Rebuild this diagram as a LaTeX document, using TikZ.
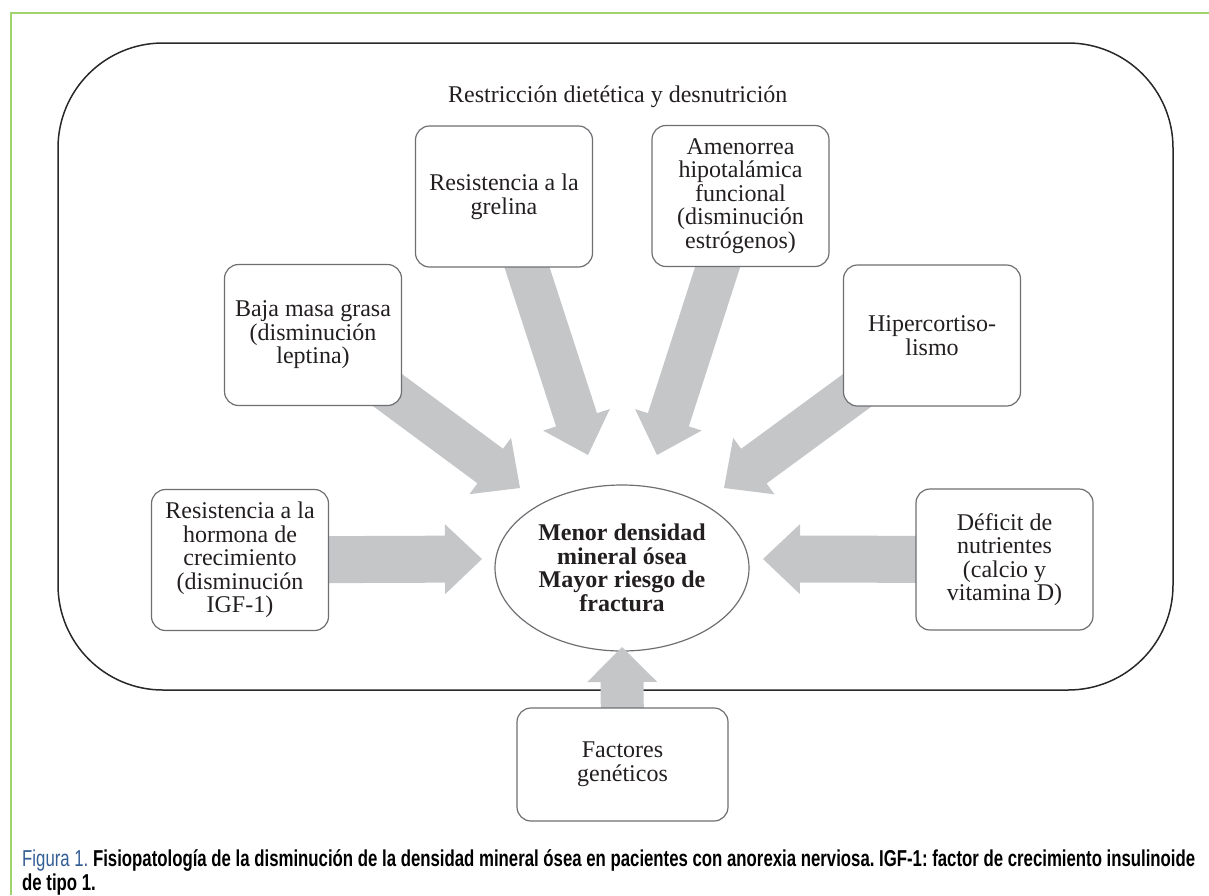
\documentclass[tikz,border=0pt]{standalone}
\usepackage{fontspec}
\setmainfont{Liberation Serif}
\newfontfamily\capfont{Liberation Sans}
\usetikzlibrary{calc,shapes.geometric}

\definecolor{framegreen}{RGB}{160,210,110}
\definecolor{arrowgray}{RGB}{197,198,200}
\definecolor{boxline}{RGB}{110,111,114}
\definecolor{outerline}{RGB}{40,40,40}
\definecolor{capblue}{RGB}{52,94,150}
\definecolor{inktext}{RGB}{35,31,32}

\tikzset{
  factor/.style={draw=boxline, line width=1.2pt, fill=white, rounded corners=14pt,
    minimum width=177pt, minimum height=141pt, inner sep=0pt, align=center,
    text=inktext, font=\fontsize{24}{23.6}\selectfont},
  outcome/.style={ellipse, draw=boxline, line width=1.2pt, fill=white,
    minimum width=254pt, minimum height=166pt, inner sep=0pt, align=center,
    text=inktext, font=\fontsize{24}{23.6}\selectfont\bfseries},
  region/.style={draw=outerline, line width=1.5pt, rounded corners=105pt,
    minimum width=1115pt, minimum height=647pt, inner sep=0pt},
  captionline/.style={anchor=base west, inner sep=0pt, text=inktext},
}

% block arrow: tail, tip, shaft half width, head length
\newcommand\blockarrow[4]{%
  \fill[arrowgray] let \p1=(#1), \p2=(#2),
      \n1={atan2(\y2-\y1,\x2-\x1)}, \n2={veclen(\x2-\x1,\y2-\y1)-#4} in
    ($(\p1)+({\n1+90}:#3)$)
    -- ($(\p1)+({\n1+90}:#3)+(\n1:\n2)$)
    -- ($(\p1)+({\n1+90}:35pt)+(\n1:\n2)$)
    -- (\p2)
    -- ($(\p1)+({\n1-90}:35pt)+(\n1:\n2)$)
    -- ($(\p1)+({\n1-90}:#3)+(\n1:\n2)$)
    -- ($(\p1)+({\n1-90}:#3)$) -- cycle;}

\newsavebox\capfirst
\newsavebox\capsecond

\begin{document}
\frenchspacing
% caption lines, set once and squeezed to the column width
\sbox\capfirst{\capfont\fontsize{23}{25}\selectfont\frenchspacing
  \textcolor{capblue}{Figura 1.} \bfseries Fisiopatología de la disminución de la densidad mineral ósea en pacientes con anorexia nerviosa. IGF-1: factor de crecimiento insulinoide}%
\sbox\capsecond{\capfont\fontsize{23}{25}\selectfont\bfseries de tipo 1.}%
\pgfmathsetmacro\capscale{1173/\wd\capfirst}%
\begin{tikzpicture}[x=1pt,y=-1pt]
\useasboundingbox (0,0) rectangle (1209,895);

% page frame lines
\draw[framegreen, line width=2pt] (11,895) -- (11,13) -- (1209,13);

% enclosing region
\node[region] (frame) at (615.5,366.5) {};
\node[anchor=base west, inner sep=0pt, text=inktext, font=\fontsize{24}{23.6}\selectfont]
  (title) at (448,102) {Restricción dietética y desnutrición};

% central outcome
\node[outcome] (bone) at (622,568) {Menor densidad\\mineral ósea\\Mayor riesgo de\\fractura};

% arrow tips
\coordinate (tipGH)  at (482,559);
\coordinate (tipLep) at (520,488);
\coordinate (tipGhr) at (588,455);
\coordinate (tipAme) at (657,455);
\coordinate (tipHip) at (724,488);
\coordinate (tipDef) at (763,559);
\coordinate (tipGen) at (622,647);

% factor box centres
\coordinate (cGH)  at (240,560);
\coordinate (cLep) at (313,335);
\coordinate (cGhr) at (504,196.5);
\coordinate (cAme) at (740.5,196);
\coordinate (cHip) at (932,335.5);
\coordinate (cDef) at (1004.5,559.5);
\coordinate (cGen) at (622.5,764.5);

\blockarrow{cGH}{tipGH}{23.5pt}{37pt}
\blockarrow{cLep}{tipLep}{21.5pt}{37pt}
\blockarrow{cGhr}{tipGhr}{21.5pt}{37pt}
\blockarrow{cAme}{tipAme}{21.5pt}{37pt}
\blockarrow{cHip}{tipHip}{21.5pt}{37pt}
\blockarrow{cDef}{tipDef}{23.5pt}{37pt}
\blockarrow{cGen}{tipGen}{21.5pt}{35pt}

% factor boxes
\node[factor] (gh)  at (cGH)  {Resistencia a la\\hormona de\\crecimiento\\(disminución\\IGF-1)};
\node[factor] (lep) at (cLep) {Baja masa grasa\\(disminución\\leptina)};
\node[factor] (ghr) at (cGhr) {Resistencia a la\\grelina};
\node[factor] (ame) at (cAme) {Amenorrea\\hipotalámica\\funcional\\(disminución\\estrógenos)};
\node[factor] (hip) at (cHip) {Hipercortiso-\\lismo};
\node[factor] (def) at (cDef) {Déficit de\\nutrientes\\(calcio y\\vitamina D)};
\node[factor, minimum width=211pt, minimum height=113pt] (gen) at (cGen) {Factores\\genéticos};

% caption
\node[captionline] (cap1) at (22,866) {\scalebox{\capscale}[1]{\usebox\capfirst}};
\node[captionline] (cap2) at (22,890) {\scalebox{\capscale}[1]{\usebox\capsecond}};
\end{tikzpicture}
\end{document}
